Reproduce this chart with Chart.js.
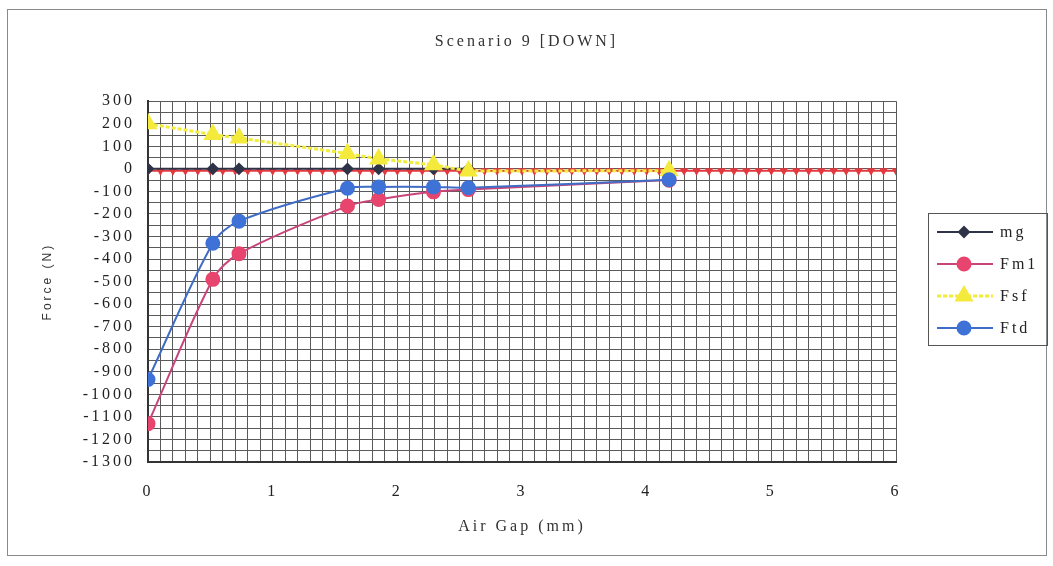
<!DOCTYPE html>
<html>
<head>
<meta charset="utf-8">
<title>Scenario 9 [DOWN]</title>
<script src="https://cdn.jsdelivr.net/npm/chart.js@4.4.1/dist/chart.umd.min.js"></script>
<style>
  html, body { margin: 0; padding: 0; background: #fff; }
  #wrap { position: relative; width: 1053px; height: 566px; }
</style>
</head>
<body>
<div id="wrap"><canvas id="chart"></canvas></div>
<script>
// air gap positions (mm) where the forces were evaluated
const gapPoints = [0, 0.52, 0.73, 1.6, 1.85, 2.29, 2.57, 4.18];

// forces (N) at those gaps
const mgForce  = [0, 0, 0, 0, 0, 0, 0];
const fm1Force = [-1130, -490, -376, -165, -136, -102, -92, -50];
const fsfForce = [200, 152, 137, 68, 44, 18, -10, -8];
const ftdForce = [-934, -330, -232, -86, -80, -80, -84, -48];

// fine red trace along the zero line
const traceGap = [
  0, 0.1, 0.2, 0.3, 0.4, 0.5, 0.6, 0.7, 0.8, 0.9,
  1, 1.1, 1.2, 1.3, 1.4, 1.5, 1.6, 1.7, 1.8, 1.9,
  2, 2.1, 2.2, 2.3, 2.4, 2.5, 2.6, 2.7, 2.8, 2.9,
  3, 3.1, 3.2, 3.3, 3.4, 3.5, 3.6, 3.7, 3.8, 3.9,
  4, 4.1, 4.2, 4.3, 4.4, 4.5, 4.6, 4.7, 4.8, 4.9,
  5, 5.1, 5.2, 5.3, 5.4, 5.5, 5.6, 5.7, 5.8, 5.9, 6
];
const traceForce = [
  -8, -8, -8, -8, -8, -8, -8, -8, -8, -8,
  -8, -8, -8, -8, -8, -8, -8, -8, -8, -8,
  -8, -8, -8, -8, -8, -8, -8, -8, -8, -8,
  -8, -8, -8, -8, -8, -8, -8, -8, -8, -8,
  -8, -8, -8, -8, -8, -8, -8, -8, -8, -8,
  -8, -8, -8, -8, -8, -8, -8, -8, -8, -8, -8
];

// axis ranges and labelled ticks
const gapMin = 0, gapMax = 6, gapStep = 0.1;
const forceMin = -1300, forceMax = 300, forceStep = 50;

function toPoints(xs, ys) {
  return ys.map((y, i) => ({ x: xs[i], y: y }));
}

const serif = "'Liberation Serif', 'DejaVu Serif', serif";

// white page plus the thin outer frame; letter spacing for all text
const frame = {
  id: 'frame',
  beforeDraw(chart) {
    const ctx = chart.ctx;
    ctx.save();
    ctx.fillStyle = '#fff';
    ctx.fillRect(0, 0, chart.width, chart.height);
    ctx.strokeStyle = '#8a8a8a';
    ctx.lineWidth = 1;
    ctx.strokeRect(7.5, 9.5, 1039, 546);
    ctx.restore();
    ctx.letterSpacing = '3px';
  }
};

// boxed legend with line + marker samples
const sideLegend = {
  id: 'sideLegend',
  afterDraw(chart) {
    const ctx = chart.ctx;
    const h = Chart.helpers;
    ctx.save();
    ctx.strokeStyle = '#555';
    ctx.lineWidth = 1;
    ctx.strokeRect(928.5, 213.5, 119, 132);
    chart.data.datasets.filter(ds => ds.inLegend).forEach((ds, i) => {
      const y = 232 + i * 32;
      ctx.setLineDash(ds.borderDash || []);
      ctx.strokeStyle = ds.borderColor;
      ctx.lineWidth = ds.borderWidth;
      ctx.beginPath();
      ctx.moveTo(937, y);
      ctx.lineTo(993, y);
      ctx.stroke();
      ctx.setLineDash([]);
      ctx.fillStyle = ds.pointBackgroundColor;
      ctx.strokeStyle = ds.pointBorderColor;
      h.drawPoint(ctx, {
        pointStyle: ds.pointStyle,
        rotation: 0,
        radius: ds.pointRadius,
        borderWidth: 1
      }, 964, y);
      ctx.letterSpacing = '3px';
      ctx.fillStyle = '#222';
      ctx.font = "16px " + serif;
      ctx.textAlign = 'left';
      ctx.textBaseline = 'middle';
      ctx.fillText(ds.label, 1000, y + 1);
    });
    ctx.restore();
  }
};

const config = {
  type: 'scatter',
  data: {
    datasets: [
      {
        label: 'mg',
        inLegend: true,
        data: toPoints(gapPoints, mgForce),
        showLine: true,
        borderColor: '#2f3348',
        borderWidth: 2,
        pointStyle: 'rectRot',
        pointRadius: 5,
        pointBackgroundColor: '#2f3348',
        pointBorderColor: '#2f3348',
        order: 4
      },
      {
        label: 'Fm1',
        inLegend: true,
        data: toPoints(gapPoints, fm1Force),
        showLine: true,
        tension: 0.3,
        borderColor: '#c8457a',
        borderWidth: 2,
        pointStyle: 'circle',
        pointRadius: 6.5,
        pointBackgroundColor: '#e8456e',
        pointBorderColor: '#e8456e',
        order: 3
      },
      {
        label: 'Fsf',
        inLegend: true,
        data: toPoints(gapPoints, fsfForce),
        showLine: true,
        borderColor: '#f2ec3a',
        borderWidth: 3,
        borderDash: [4, 2],
        pointStyle: 'triangle',
        pointRadius: 8,
        pointBackgroundColor: '#f4ea3c',
        pointBorderColor: '#f4ea3c',
        order: 2
      },
      {
        label: 'Ftd',
        inLegend: true,
        data: toPoints(gapPoints, ftdForce),
        showLine: true,
        tension: 0.3,
        borderColor: '#3f6cc4',
        borderWidth: 2,
        pointStyle: 'circle',
        pointRadius: 6.5,
        pointBackgroundColor: '#3f72d6',
        pointBorderColor: '#3f72d6',
        order: 1
      },
      {
        label: 'trace',
        inLegend: false,
        data: toPoints(traceGap, traceForce),
        showLine: true,
        borderColor: '#e2393f',
        borderWidth: 2,
        pointStyle: 'triangle',
        rotation: 180,
        pointRadius: 3,
        pointBackgroundColor: '#e2393f',
        pointBorderColor: '#e2393f',
        order: 5
      }
    ]
  },
  options: {
    responsive: true,
    maintainAspectRatio: false,
    animation: false,
    layout: { padding: 0 },
    plugins: {
      legend: { display: false },
      tooltip: { enabled: false },
      title: {
        display: true,
        text: 'Scenario 9 [DOWN]',
        color: '#333',
        font: { family: serif, size: 16, weight: 'normal' },
        padding: { top: 32, bottom: 50 }
      }
    },
    scales: {
      x: {
        type: 'linear',
        min: gapMin,
        max: gapMax,
        afterFit(scale) { scale.height = 104; },
        ticks: {
          stepSize: gapStep,
          autoSkip: false,
          maxRotation: 0,
          padding: 20,
          color: '#222',
          font: { family: serif, size: 16 },
          callback(v) {
            return Math.abs(v - Math.round(v)) < 1e-6 ? String(Math.round(v)) : '';
          }
        },
        grid: { color: '#5a5a5a', lineWidth: 1, drawTicks: false },
        border: { color: '#333', width: 2 },
        title: {
          display: true,
          text: 'Air Gap (mm)',
          color: '#333',
          font: { family: serif, size: 16 },
          padding: { top: 0, bottom: 30 }
        }
      },
      y: {
        type: 'linear',
        min: forceMin,
        max: forceMax,
        afterFit(scale) { scale.width = 148; },
        ticks: {
          stepSize: forceStep,
          autoSkip: false,
          padding: 13,
          color: '#222',
          font: { family: serif, size: 16 },
          callback(v) {
            return Math.round(v) % 100 === 0 ? String(Math.round(v)) : '';
          }
        },
        grid: { color: '#5a5a5a', lineWidth: 1, drawTicks: false },
        border: { color: '#333', width: 2 },
        title: {
          display: true,
          text: 'Force (N)',
          color: '#333',
          font: { family: "'Liberation Sans', Arial, sans-serif", size: 12 },
          padding: { top: 40, bottom: 0 }
        }
      },
      // empty right-hand strip that leaves room for the legend box
      side: {
        type: 'linear',
        position: 'right',
        afterFit(scale) { scale.width = 157; },
        ticks: { display: false },
        grid: { display: false, drawTicks: false },
        border: { display: false },
        title: { display: false }
      }
    }
  },
  plugins: [frame, sideLegend]
};

new Chart(document.getElementById('chart'), config);
</script>
</body>
</html>
